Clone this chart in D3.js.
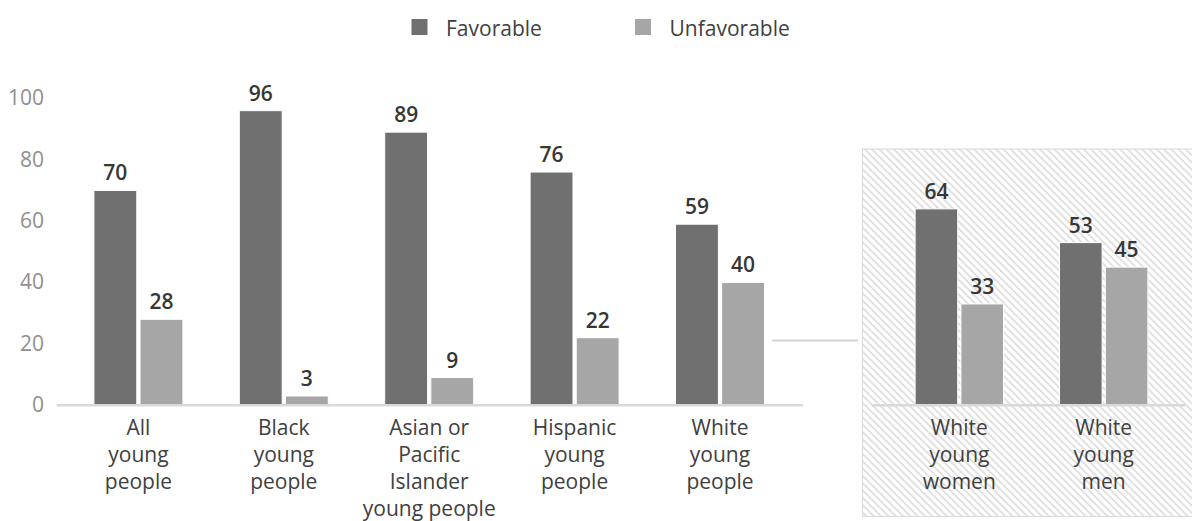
<!DOCTYPE html>
<html>
<head>
<meta charset="utf-8">
<script src="https://cdn.jsdelivr.net/npm/d3@7"></script>
<style>
  body { margin: 0; background: #fff; }
  svg { display: block; font-family: "Open Sans", sans-serif; }
</style>
</head>
<body>
<svg id="chart" width="1192" height="521"></svg>
<script>
// data
const groups = ["All young people", "Black young people", "Asian or Pacific Islander young people", "Hispanic young people", "White young people"];
const groupLines = [["All", "young", "people"], ["Black", "young", "people"], ["Asian or", "Pacific", "Islander", "young people"], ["Hispanic", "young", "people"], ["White", "young", "people"]];
const favorable = [70, 96, 89, 76, 59];
const unfavorable = [28, 3, 9, 22, 40];

const subGroups = ["White young women", "White young men"];
const subGroupLines = [["White", "young", "women"], ["White", "young", "men"]];
const subFavorable = [64, 53];
const subUnfavorable = [33, 45];

const seriesNames = ["Favorable", "Unfavorable"];
const seriesColors = ["#707070", "#a6a6a6"];
const yTicks = [0, 20, 40, 60, 80, 100];

const svg = d3.select("#chart");

// hatch for the breakout box
svg.append("defs").append("pattern")
    .attr("id", "hatch")
    .attr("patternUnits", "userSpaceOnUse")
    .attr("width", 7.3)
    .attr("height", 7.3)
    .append("path")
    .attr("d", "M0,0 L7.3,7.3 M-1,6.3 L1,8.3 M6.3,-1 L8.3,1")
    .attr("stroke", "#d9d9d9")
    .attr("stroke-width", 1.5);

const y = d3.scaleLinear().domain([0, 100]).range([405.2, 98.4]);

const x = d3.scaleBand().domain(groups).range([65.7, 792.7]).paddingInner(0.388).paddingOuter(0.194);
const xs = d3.scaleBand().domain(subGroups).range([887.1, 1175.9]).paddingInner(0.388).paddingOuter(0.194);

// box
svg.append("rect")
    .attr("x", 862.5).attr("y", 149)
    .attr("width", 340).attr("height", 367.5)
    .attr("fill", "url(#hatch)")
    .attr("stroke", "#dcdcdc")
    .attr("stroke-width", 1.2);

// connector
svg.append("line")
    .attr("x1", 772).attr("x2", 858)
    .attr("y1", 340.5).attr("y2", 340.5)
    .attr("stroke", "#d4d4d4").attr("stroke-width", 2);

// y axis
const yAxis = svg.append("g")
    .attr("transform", "translate(44,0)")
    .call(d3.axisLeft(y).tickValues(yTicks).tickSize(0).tickPadding(0));
yAxis.select(".domain").remove();
yAxis.selectAll("text")
    .attr("font-family", "Open Sans")
    .attr("font-size", 21)
    .attr("fill", "#8f8f8f")
    .attr("dy", "0.3em");

function drawGroups(scale, cats, lines, fav, unfav, lineX) {
    const inner = d3.scaleBand().domain(seriesNames).range([0, scale.bandwidth()]).paddingInner(0.07);
    const rows = cats.map((c, i) => ({ cat: c, lines: lines[i], vals: [fav[i], unfav[i]] }));

    const g = svg.append("g");
    const grp = g.selectAll("g.grp").data(rows).join("g")
        .attr("class", "grp")
        .attr("transform", d => `translate(${scale(d.cat)},0)`);

    const bars = grp.selectAll("g.bar")
        .data(d => d.vals.map((v, j) => ({ key: seriesNames[j], v: v, j: j })))
        .join("g").attr("class", "bar");

    bars.append("rect")
        .attr("x", d => inner(d.key))
        .attr("width", inner.bandwidth())
        .attr("y", d => y(d.v))
        .attr("height", d => y(0) - y(d.v))
        .attr("fill", d => seriesColors[d.j])
        .attr("stroke", "#fff")
        .attr("stroke-width", 1);

    bars.append("text")
        .attr("x", d => inner(d.key) + inner.bandwidth() / 2)
        .attr("y", d => y(d.v) - 10)
        .attr("text-anchor", "middle")
        .attr("font-size", 21)
        .attr("font-weight", 600)
        .attr("fill", "#363636")
        .text(d => d.v);

    // baseline
    g.append("line")
        .attr("x1", lineX[0]).attr("x2", lineX[1])
        .attr("y1", y(0)).attr("y2", y(0))
        .attr("stroke", "#d9d9d9").attr("stroke-width", 2.5);

    grp.append("text")
        .attr("text-anchor", "middle")
        .attr("font-size", 21)
        .attr("fill", "#404040")
        .selectAll("tspan")
        .data(d => d.lines)
        .join("tspan")
        .attr("x", scale.bandwidth() / 2)
        .attr("y", (d, i) => 435 + i * 27)
        .text(d => d);
}

drawGroups(x, groups, groupLines, favorable, unfavorable, [56.6, 803]);
drawGroups(xs, subGroups, subGroupLines, subFavorable, subUnfavorable, [871.7, 1185]);

// legend
const legendX = [411.5, 635];
const legend = svg.append("g").selectAll("g").data(seriesNames).join("g")
    .attr("transform", (d, i) => `translate(${legendX[i]},19)`);
legend.append("rect")
    .attr("width", 16).attr("height", 16)
    .attr("fill", (d, i) => seriesColors[i]);
legend.append("text")
    .attr("x", 34.5).attr("y", 16.5)
    .attr("font-size", 21)
    .attr("fill", "#404040")
    .text(d => d);
</script>
</body>
</html>
